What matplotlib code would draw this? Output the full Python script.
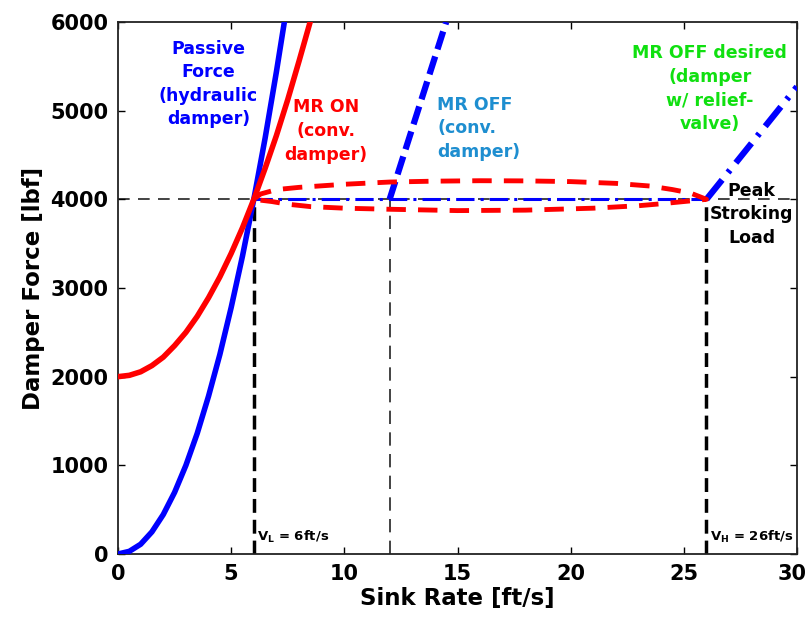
import matplotlib
matplotlib.use('Agg')
import matplotlib.pyplot as plt
import matplotlib.transforms as mtransforms

plt.rcParams['font.family'] = 'DejaVu Sans'
plt.rcParams['font.weight'] = 'bold'

# passive force (hydraulic damper)
passive_v = [0, 0.5, 1, 1.5, 2, 2.5, 3, 3.5, 4, 4.5, 5, 5.5, 6, 6.5, 7, 7.35]
passive_f = [0, 30, 110, 250, 445, 695, 1000, 1360, 1780, 2250, 2780, 3360, 4000, 4690, 5440, 6000]

# MR ON (conv. damper)
mr_on_v = [0, 0.5, 1, 1.5, 2, 2.5, 3, 3.5, 4, 4.5, 5, 5.5, 6, 6.5, 7, 7.5, 8, 8.5]
mr_on_f = [2000, 2015, 2055, 2125, 2220, 2350, 2500, 2680, 2890, 3125, 3390, 3680, 4000, 4350, 4720,
           5125, 5560, 6010]

# MR OFF (conv. damper)
mr_off_v = [12, 14.5]
mr_off_f = [4000, 6000]

# MR OFF desired: plateau + relief valve
plateau_v = [6, 26]
plateau_f = [4000, 4000]
relief_v = [26, 30]
relief_f = [4000, 5270]

# controllable region loop
loop_v = [6, 6.3, 7, 8, 10, 12, 14, 16, 18, 20, 22, 23.5, 24.5, 25.3, 26,
          25, 24, 23, 21, 18, 15, 12, 10, 8.5, 7.5, 6.8, 6]
loop_f = [4000, 4060, 4110, 4135, 4170, 4195, 4205, 4210, 4208, 4200, 4180, 4150, 4110, 4070, 4000,
          3975, 3950, 3928, 3900, 3878, 3873, 3888, 3900, 3918, 3945, 3975, 4000]

peak_load = 4000
v_low, v_mid, v_high = 6, 12, 26


fig = plt.figure(figsize=(8.09, 6.24), dpi=100)
ax = fig.add_axes([118 / 809, 70 / 624, 679 / 809, 532 / 624])

ax.plot([0, 30], [peak_load, peak_load], color='#222222', lw=1.2, dashes=(7, 5), zorder=1)
ax.plot([v_low, v_low], [0, peak_load], color='black', lw=2.5, dashes=(4, 2), zorder=1)
ax.plot([v_mid, v_mid], [0, peak_load], color='#222222', lw=1.2, dashes=(8, 5), zorder=1)
ax.plot([v_high, v_high], [0, peak_load], color='black', lw=2.5, dashes=(4, 2), zorder=1)

ax.plot(plateau_v, plateau_f, color='blue', lw=2.2, dashes=(6, 2, 1, 2), zorder=2)
ax.plot(relief_v, relief_f, color='blue', lw=4.5, dashes=(4, 1.5, 0.5, 1.5), zorder=3)
ax.plot(mr_off_v, mr_off_f, color='blue', lw=4.5, dashes=(3, 1.2), zorder=3)
ax.plot(loop_v, loop_f, color='red', lw=3.5, dashes=(4, 2.5), zorder=4)
ax.plot(passive_v, passive_f, color='blue', lw=4, zorder=5)
ax.plot(mr_on_v, mr_on_f, color='red', lw=4, zorder=6)

txt = dict(fontsize=12.5, fontweight='bold', linespacing=1.4, va='center')
ax.text(4.0, 5300, 'Passive\nForce\n(hydraulic\ndamper)', color='blue', ha='center', **txt)
ax.text(9.2, 4770, 'MR ON\n(conv.\ndamper)', color='red', ha='center', **txt)
ax.text(14.1, 4800, 'MR OFF\n(conv.\ndamper)', color='#1e8ed0', ha='left', **txt)
ax.text(26.15, 5250, 'MR OFF desired\n(damper\nw/ relief-\nvalve)', color='#10e010', ha='center', **txt)
ax.text(28.0, 3830, 'Peak\nStroking\nLoad', color='black', ha='center', **txt)

ax.text(6.15, 190, r'V$_{\mathregular{L}}$ = 6ft/s', fontsize=9.5, fontweight='bold', va='center')
ax.text(26.15, 190, r'V$_{\mathregular{H}}$ = 26ft/s', fontsize=9.5, fontweight='bold', va='center')

ax.set_xlim(0, 30)
ax.set_ylim(0, 6000)
ax.set_xticks(range(0, 31, 5))
ax.set_yticks(range(0, 6001, 1000))
ax.tick_params(direction='in', top=True, right=True, length=5, width=1, labelsize=15, pad=7)
for lbl in ax.get_xticklabels() + ax.get_yticklabels():
    lbl.set_fontweight('bold')
# keep the "30" inside the canvas
last = ax.get_xticklabels()[-1]
last.set_transform(last.get_transform() + mtransforms.ScaledTranslation(-5 / 100, 0, fig.dpi_scale_trans))
for s in ax.spines.values():
    s.set_linewidth(1.3)
    s.set_color('#222222')

ax.set_xlabel('Sink Rate [ft/s]', fontsize=16.5, fontweight='bold', labelpad=2)
ax.set_ylabel('Damper Force [lbf]', fontsize=16.5, fontweight='bold', labelpad=4)

fig.savefig('out.png', dpi=100)
